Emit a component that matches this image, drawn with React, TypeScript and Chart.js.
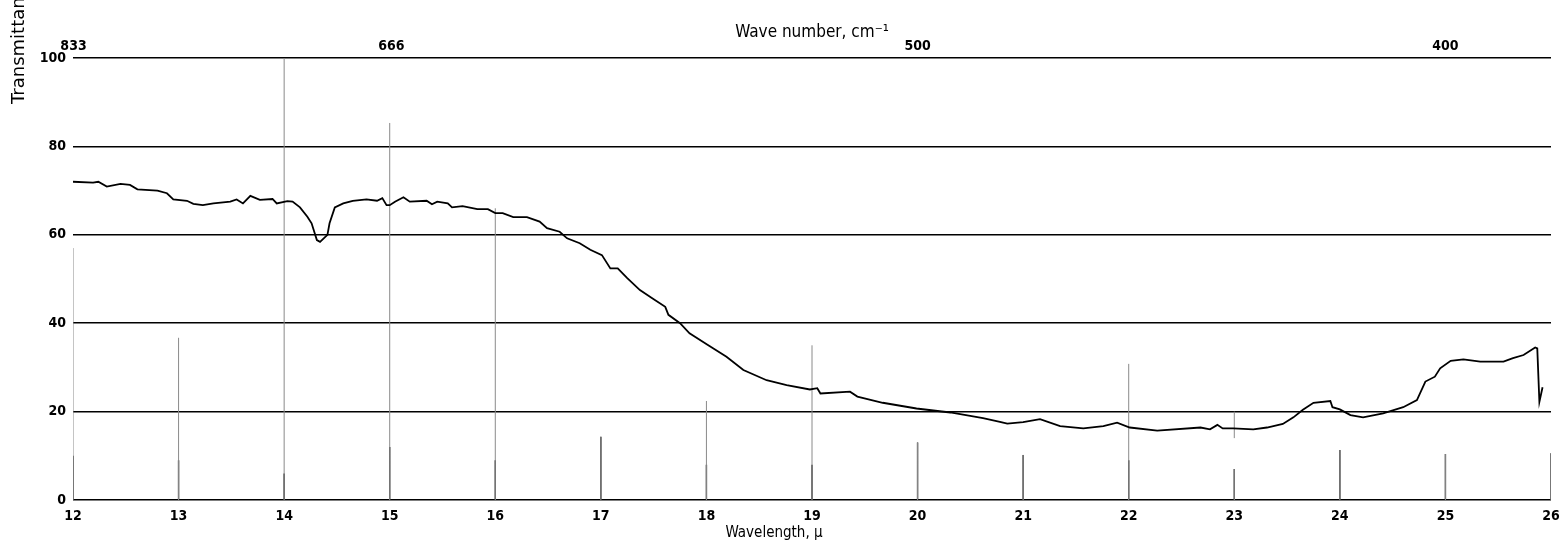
import React, { useEffect, useRef } from "react";
import { Chart, registerables } from "chart.js";

Chart.register(...registerables);

// Transmittance trace (wavelength in microns, transmittance in percent)
const wavelength = [
  12.0, 12.19, 12.24, 12.32, 12.45, 12.54, 12.61, 12.8, 12.89, 12.95, 13.08, 13.14, 13.23, 13.33,
  13.49, 13.55, 13.61, 13.68, 13.77, 13.89, 13.93, 14.03, 14.08, 14.15, 14.22, 14.26, 14.31, 14.34,
  14.41, 14.43, 14.48, 14.56, 14.65, 14.78, 14.88, 14.93, 14.97, 15.0, 15.05, 15.13, 15.19, 15.35,
  15.4, 15.45, 15.55, 15.59, 15.69, 15.83, 15.93, 16.0, 16.07, 16.17, 16.3, 16.42, 16.49, 16.61,
  16.68, 16.8, 16.9, 17.01, 17.09, 17.16, 17.25, 17.37, 17.49, 17.61, 17.64, 17.75, 17.84, 18.01,
  18.19, 18.35, 18.57, 18.76, 18.98, 19.05, 19.08, 19.36, 19.43, 19.67, 19.99, 20.31, 20.62, 20.78,
  20.85, 21.0, 21.16, 21.35, 21.57, 21.76, 21.89, 22.01, 22.27, 22.68, 22.77, 22.84, 22.89, 22.99,
  23.18, 23.31, 23.46, 23.56, 23.65, 23.75, 23.91, 23.93, 24.0, 24.1, 24.22, 24.41, 24.6, 24.73,
  24.81, 24.9, 24.95, 25.05, 25.17, 25.33, 25.55, 25.64, 25.74, 25.85, 25.87, 25.89, 25.92,
];
const transmittance = [
  72.0, 71.8, 72.0, 70.9, 71.5, 71.3, 70.3, 70.0, 69.4, 68.0, 67.7, 67.0, 66.7, 67.1,
  67.5, 68.0, 67.1, 68.8, 67.9, 68.1, 67.1, 67.6, 67.5, 66.2, 64.1, 62.6, 58.8, 58.4,
  60.0, 62.6, 66.2, 67.1, 67.7, 68.0, 67.7, 68.3, 66.7, 66.7, 67.5, 68.5, 67.5, 67.7,
  66.9, 67.5, 67.1, 66.2, 66.5, 65.8, 65.8, 64.9, 64.9, 64.0, 64.0, 63.0, 61.5, 60.7,
  59.2, 58.1, 56.6, 55.4, 52.4, 52.4, 50.2, 47.5, 45.6, 43.7, 41.9, 40.0, 37.7, 35.1,
  32.4, 29.4, 27.1, 26.0, 25.0, 25.3, 24.1, 24.5, 23.4, 22.0, 20.7, 19.8, 18.5, 17.7,
  17.3, 17.6, 18.3, 16.7, 16.2, 16.7, 17.5, 16.4, 15.7, 16.4, 16.0, 17.0, 16.2, 16.2,
  16.0, 16.4, 17.2, 18.7, 20.4, 22.0, 22.4, 21.0, 20.5, 19.2, 18.7, 19.6, 21.0, 22.6,
  26.8, 27.9, 29.8, 31.5, 31.8, 31.3, 31.3, 32.1, 32.8, 34.5, 34.3, 22.2, 25.5,
];

// Vertical guide marks at each micron (height in percent)
const guideX = [12, 13, 14, 15, 16, 17, 18, 19, 20, 21, 22, 23, 24, 25, 26];
const guideTop = [57, 36.7, 100, 85.3, 66, 14.3, 22.4, 35, 13, 10.2, 30.8, 7, 11.3, 10.4, 10.6];
// Darker lower part of each guide mark
const guideBaseTop = [10, 9, 6, 12, 9, 14.3, 8, 8, 13, 10.2, 9, 7, 11.3, 10.4, 10.6];
// Extra floating guide segment
const extraGuideX = [23];
const extraGuideLow = [14];
const extraGuideHigh = [20];

// Axis ticks
const wavelengthTicks = [12, 13, 14, 15, 16, 17, 18, 19, 20, 21, 22, 23, 24, 25, 26];
const transmittanceTicks = [0, 20, 40, 60, 80, 100];
const waveNumberLabels = [833, 666, 500, 400];

const FONT = "'DejaVu Sans Condensed', 'DejaVu Sans', sans-serif";

export default function App() {
  const ref = useRef<HTMLCanvasElement | null>(null);

  useEffect(() => {
    if (!ref.current) return;
    const curve = wavelength.map((x, i) => ({ x, y: transmittance[i] }));
    const guides: { x: number; y: number | null }[] = [];
    guideX.forEach((x, i) => {
      guides.push({ x, y: 0 }, { x, y: guideTop[i] }, { x, y: null });
    });
    extraGuideX.forEach((x, i) => {
      guides.push({ x, y: extraGuideLow[i] }, { x, y: extraGuideHigh[i] }, { x, y: null });
    });
    const guideBases: { x: number; y: number | null }[] = [];
    guideX.forEach((x, i) => {
      guideBases.push({ x, y: 0 }, { x, y: guideBaseTop[i] }, { x, y: null });
    });

    const titlesPlugin = {
      id: "titles",
      afterDraw(chart: any) {
        const ctx = chart.ctx;
        ctx.save();
        ctx.fillStyle = "#000";
        // Y-axis title (clipped at top as in the original)
        ctx.translate(19, 104);
        ctx.rotate(-Math.PI / 2);
        ctx.font = "18px 'DejaVu Sans', sans-serif";
        ctx.textAlign = "left";
        ctx.textBaseline = "middle";
        ctx.fillText("Transmittance, percent", 0, 0);
        ctx.restore();
        // X-axis title
        ctx.save();
        ctx.fillStyle = "#000";
        ctx.font = `condensed 15px ${FONT}`;
        ctx.textAlign = "center";
        ctx.textBaseline = "middle";
        ctx.fillText("Wavelength, μ", 774, 533);
        ctx.restore();
      },
    };

    const chart = new Chart(ref.current, {
      type: "line",
      data: {
        datasets: [
          {
            data: curve as any,
            borderColor: "#000",
            borderWidth: 1.8,
            pointRadius: 0,
            tension: 0,
          },
          {
            data: guides as any,
            borderColor: "#8a8a8a",
            borderWidth: 1,
            pointRadius: 0,
            spanGaps: false,
          },
          {
            data: guideBases as any,
            borderColor: "#222",
            borderWidth: 1.4,
            pointRadius: 0,
            spanGaps: false,
          },
        ],
      },
      options: {
        animation: false,
        responsive: false,
        maintainAspectRatio: false,
        layout: { padding: { left: 0, right: 11, top: 0, bottom: 0 } },
        plugins: { legend: { display: false }, tooltip: { enabled: false } },
        scales: {
          x: {
            type: "linear",
            position: "bottom",
            min: 12,
            max: 26,
            afterBuildTicks: (s: any) => {
              s.ticks = wavelengthTicks.map((v) => ({ value: v }));
            },
            afterFit: (s: any) => {
              s.height = 50;
            },
            grid: { display: false, drawTicks: false },
            border: { display: false },
            ticks: {
              color: "#000",
              padding: 2,
              maxRotation: 0,
              autoSkip: false,
              font: { family: FONT, size: 14, weight: "condensed bold", lineHeight: 2.1 },
            },
            title: { display: false },
          },
          x2: {
            type: "linear",
            position: "top",
            min: 12,
            max: 26,
            afterBuildTicks: (s: any) => {
              s.ticks = waveNumberLabels.map((w) => ({ value: 10000 / w }));
            },
            afterFit: (s: any) => {
              s.height = 58;
            },
            grid: { display: false, drawTicks: false },
            border: { display: false },
            ticks: {
              color: "#000",
              padding: 3,
              maxRotation: 0,
              autoSkip: false,
              font: { family: FONT, size: 14, weight: "condensed bold" },
              callback: (_v: any, i: number) => String(waveNumberLabels[i]),
            },
            title: {
              display: true,
              text: "Wave number, cm⁻¹",
              color: "#000",
              font: { family: FONT, size: 17, weight: "condensed" },
              padding: { top: 22, bottom: 0 },
            },
          },
          y: {
            min: 0,
            max: 100,
            afterBuildTicks: (s: any) => {
              s.ticks = transmittanceTicks.map((v) => ({ value: v }));
            },
            afterFit: (s: any) => {
              s.width = 73;
            },
            grid: { color: "#000", lineWidth: 1.6, drawTicks: false },
            border: { display: false },
            ticks: {
              color: "#000",
              padding: 7,
              font: { family: FONT, size: 14, weight: "condensed bold" },
            },
          },
        },
      },
      plugins: [titlesPlugin],
    } as any);
    return () => chart.destroy();
  }, []);

  return (
    <div style={{ position: "fixed", left: 0, top: 0, width: 1562, height: 550, background: "#fff" }}>
      <canvas ref={ref} width={1562} height={550} style={{ width: 1562, height: 550 }} />
    </div>
  );
}
